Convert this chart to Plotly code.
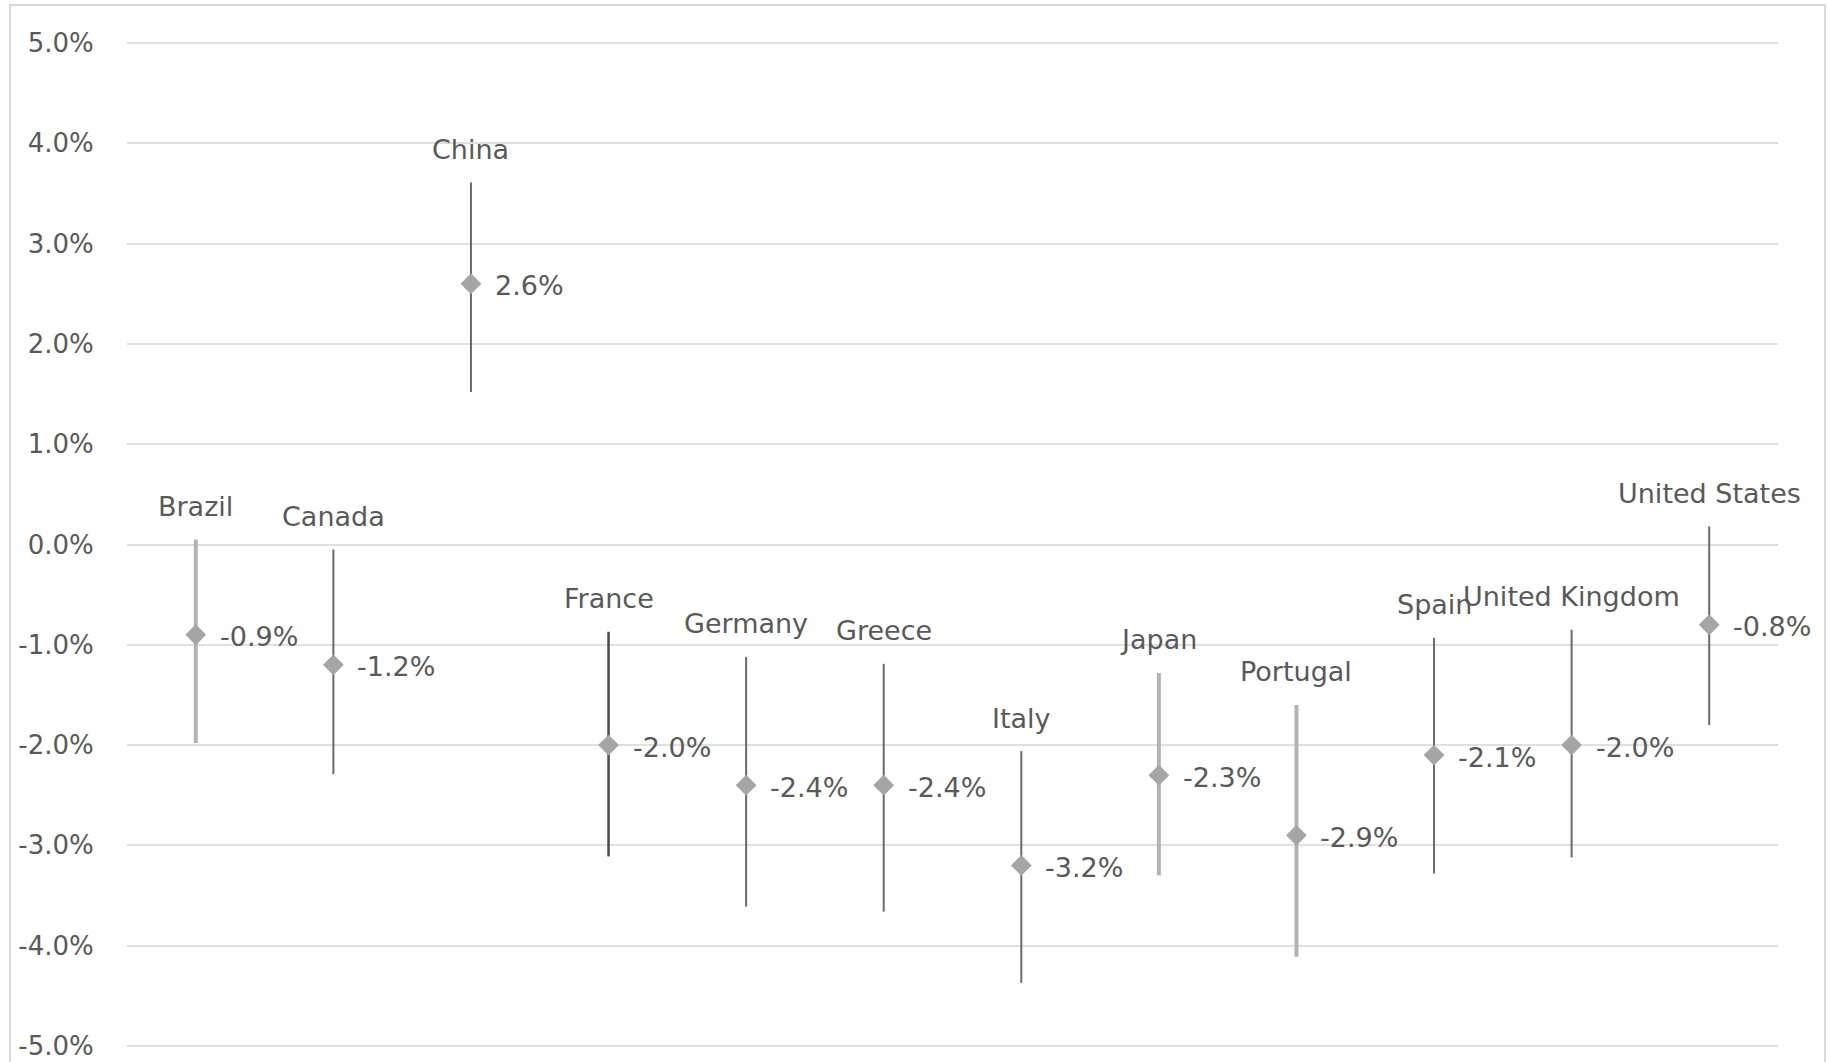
import plotly.graph_objects as go

# Point estimates (%) with the upper/lower bounds of each interval
countries = ["Brazil", "Canada", "China", "France", "Germany", "Greece",
             "Italy", "Japan", "Portugal", "Spain", "United Kingdom", "United States"]
values = [-0.9, -1.2, 2.6, -2.0, -2.4, -2.4, -3.2, -2.3, -2.9, -2.1, -2.0, -0.8]
upper = [0.05, -0.05, 3.61, -0.87, -1.12, -1.19, -2.06, -1.28, -1.60, -0.93, -0.85, 0.18]
lower = [-1.98, -2.29, 1.52, -3.11, -3.61, -3.66, -4.37, -3.30, -4.11, -3.28, -3.12, -1.80]

y_ticks = [5, 4, 3, 2, 1, 0, -1, -2, -3, -4, -5]
y_tick_labels = ["5.0%", "4.0%", "3.0%", "2.0%", "1.0%", "0.0%",
                 "-1.0%", "-2.0%", "-3.0%", "-4.0%", "-5.0%"]

# Interval line styles
LIGHT = dict(color="#b3b3b3", thickness=4)
DARK = dict(color="#6a6a6a", thickness=2)
DARKER = dict(color="#4a4a4a", thickness=2.5)
bar_style = {"Brazil": LIGHT, "Japan": LIGHT, "Portugal": LIGHT, "France": DARKER}

TEXT = "#595959"
FONT = "DejaVu Sans"
FS = 27

W, H = 1829, 1062
ML, MR, MT, MB = 127, 51, 38, 11
pw, ph = W - ML - MR, H - MT - MB
Y_PAD = 0.05  # keeps the ±5% gridlines inside the plot area

fig = go.Figure()

for i, (c, v, hi, lo) in enumerate(zip(countries, values, upper, lower)):
    st = bar_style.get(c, DARK)
    fig.add_trace(go.Scatter(
        x=[i], y=[v], mode="markers",
        marker=dict(symbol="diamond", size=16, color="#a5a5a5"),
        error_y=dict(type="data", symmetric=False,
                     array=[hi - v], arrayminus=[v - lo],
                     color=st["color"], thickness=st["thickness"], width=0),
        showlegend=False, hoverinfo="skip",
    ))
    # value label to the right of the point
    fig.add_annotation(x=i, y=v, text=f"{v:.1f}%", showarrow=False,
                       xanchor="left", yanchor="middle", xshift=22, yshift=-2,
                       font=dict(family=FONT, size=FS, color=TEXT))
    # country name above the interval
    fig.add_annotation(x=i, y=hi, text=c, showarrow=False,
                       xanchor="center", yanchor="middle", yshift=33,
                       font=dict(family=FONT, size=FS, color=TEXT))

# outer chart border
def px_x(p):
    return (p - ML) / pw

def px_y(p):
    return (H - MB - p) / ph

fig.add_shape(type="rect", xref="paper", yref="paper",
              x0=px_x(10), x1=px_x(1825), y0=px_y(1075), y1=px_y(5),
              line=dict(color="#d9d9d9", width=2), fillcolor="rgba(0,0,0,0)",
              layer="below")

fig.update_layout(
    width=W, height=H,
    margin=dict(l=ML, r=MR, t=MT, b=MB, autoexpand=False),
    paper_bgcolor="white", plot_bgcolor="white",
    xaxis=dict(range=[-0.5, len(countries) - 0.5], showgrid=False,
               zeroline=False, showticklabels=False, showline=False,
               automargin=False),
    yaxis=dict(range=[min(y_ticks) - Y_PAD, max(y_ticks) + Y_PAD],
               tickvals=y_ticks, ticktext=y_tick_labels,
               showgrid=True, gridcolor="#e0e0e0", gridwidth=1.5,
               zeroline=False, showline=False, automargin=False,
               ticks="outside", ticklen=27, tickcolor="rgba(0,0,0,0)",
               ticklabeloverflow="allow",
               tickfont=dict(family=FONT, size=26, color=TEXT)),
)

fig.write_html("out.html")
